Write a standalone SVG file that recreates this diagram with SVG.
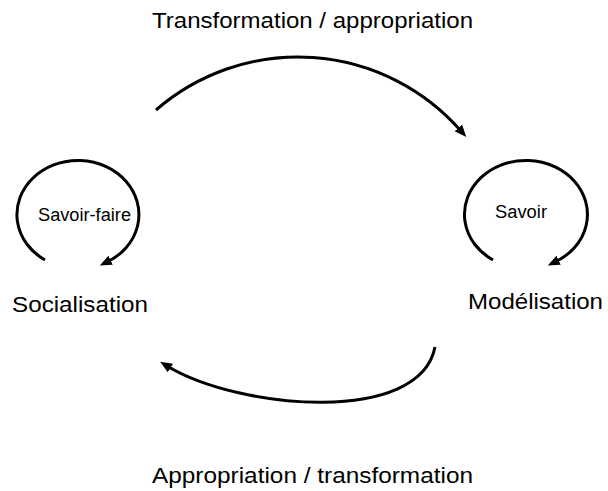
<svg xmlns="http://www.w3.org/2000/svg" width="608" height="491" viewBox="0 0 608 491">
  <style>
    .big { font-family: "Liberation Sans", Arial, sans-serif; font-size: 22px; fill: #000; }
    .small { font-family: "Liberation Sans", Arial, sans-serif; font-size: 18px; fill: #000; }
    .arc { fill: none; stroke: #000; stroke-width: 3; }
  </style>
  <defs>
    <marker id="arrow" markerUnits="userSpaceOnUse" markerWidth="14" markerHeight="12" refX="4" refY="5" orient="auto">
      <path d="M0,0 L12,5 L0,10 z" fill="#000"/>
    </marker>
  </defs>
  <rect width="608" height="491" fill="#fff"/>
  <g id="connectors">
    <path class="arc" d="M156,110 A216.5,216.5 0 0 1 461,131" marker-end="url(#arrow)"/>
    <path class="arc" d="M435,347 C420,425 240,410 167,366" marker-end="url(#arrow)"/>
  </g>
  <g id="socialisation">
    <path class="arc" d="M45,260 A61,54 0 1 1 107,262" marker-end="url(#arrow)"/>
    <text class="small" x="38" y="221" textLength="93" lengthAdjust="spacingAndGlyphs">Savoir-faire</text>
    <text class="big" x="12" y="312" textLength="136" lengthAdjust="spacingAndGlyphs">Socialisation</text>
  </g>
  <g id="modelisation">
    <path class="arc" d="M493,260 A61.5,54 0 1 1 555,262" marker-end="url(#arrow)"/>
    <text class="small" x="495" y="218" textLength="52" lengthAdjust="spacingAndGlyphs">Savoir</text>
    <text class="big" x="468" y="309" textLength="135" lengthAdjust="spacingAndGlyphs">Modélisation</text>
  </g>
  <g id="labels">
    <text class="big" x="152" y="28" textLength="321" lengthAdjust="spacingAndGlyphs">Transformation / appropriation</text>
    <text class="big" x="152" y="483" textLength="321" lengthAdjust="spacingAndGlyphs">Appropriation / transformation</text>
  </g>
</svg>
